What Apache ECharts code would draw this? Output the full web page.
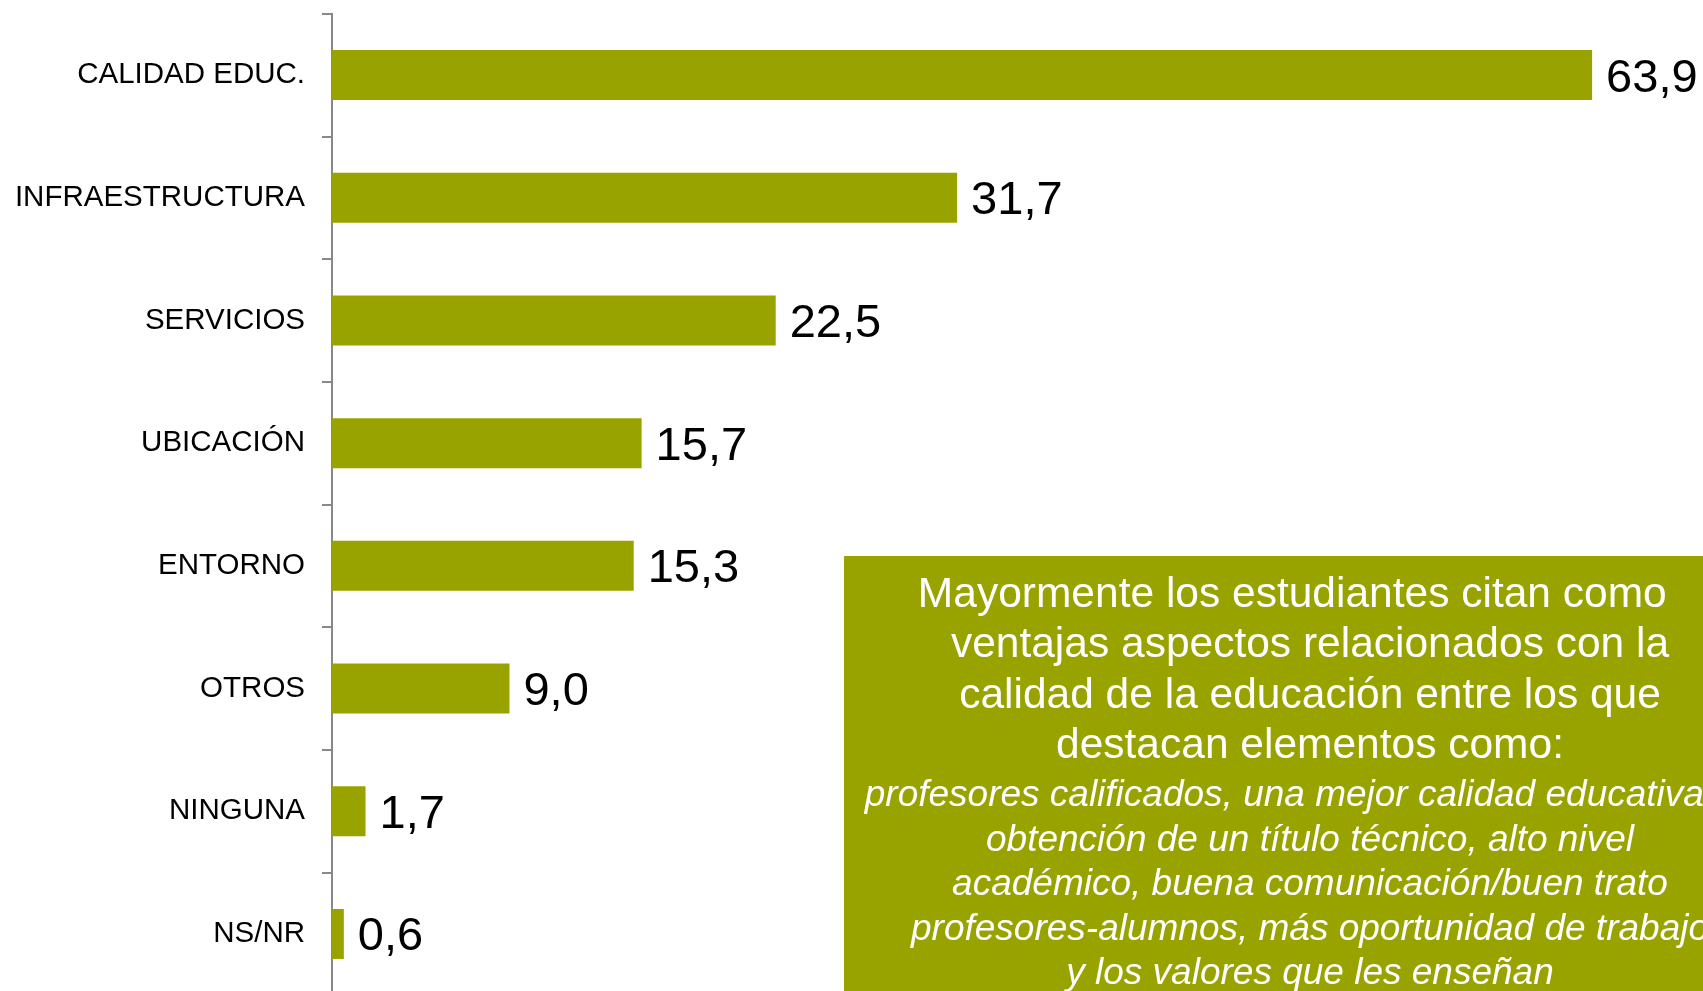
<!DOCTYPE html>
<html>
<head>
<meta charset="utf-8">
<script src="https://cdn.jsdelivr.net/npm/echarts@6/dist/echarts.min.js"></script>
<style>
html,body{margin:0;padding:0;background:#fff;}
#chart{width:1703px;height:991px;}
</style>
</head>
<body>
<div id="chart"></div>
<script>
const categories = ['CALIDAD EDUC.', 'INFRAESTRUCTURA', 'SERVICIOS', 'UBICACIÓN', 'ENTORNO', 'OTROS', 'NINGUNA', 'NS/NR'];
const values = [63.9, 31.7, 22.5, 15.7, 15.3, 9.0, 1.7, 0.6];
const noteMain = [
  'Mayormente los estudiantes citan como\u00a0\u00a0\u00a0',
  'ventajas aspectos relacionados con la',
  'calidad de la educación entre los que',
  'destacan elementos como:'
];
const noteItalic = [
  'profesores calificados, una mejor calidad educativa,\u00a0\u00a0\u00a0\u00a0',
  'obtención de un título técnico, alto nivel',
  'académico, buena comunicación/buen trato',
  'profesores-alumnos, más oportunidad de trabajo',
  'y los valores que les enseñan'
];

const FONT = '"Liberation Sans", Arial, Helvetica, sans-serif';
const GREEN = '#99A300';

const chart = echarts.init(document.getElementById('chart'), null, {renderer: 'canvas'});
const option = {
  backgroundColor: '#ffffff',
  animation: false,
  grid: {
    left: 332, top: 13.7, width: 1380.4, height: 981.6,
    containLabel: false, outerBoundsMode: 'none'
  },
  xAxis: {
    type: 'value', min: 0, max: 70,
    show: false
  },
  yAxis: {
    type: 'category',
    data: categories,
    inverse: true,
    axisLine: {show: true, lineStyle: {color: '#888888', width: 2}},
    axisTick: {show: true, length: 10, lineStyle: {color: '#888888', width: 2}},
    axisLabel: {
      margin: 27,
      fontSize: 29.5,
      color: '#000000',
      fontFamily: FONT,
      padding: [6.5, 0, 0, 0]
    },
    splitLine: {show: false}
  },
  series: [{
    type: 'bar',
    data: values,
    barWidth: 50,
    itemStyle: {color: GREEN},
    label: {
      show: true,
      position: 'right',
      distance: 14,
      offset: [0, 3.5],
      fontSize: 47,
      color: '#000000',
      fontFamily: FONT,
      formatter: p => p.value.toFixed(1).replace('.', ',')
    }
  }],
  graphic: [
    {
      type: 'rect',
      shape: {x: 844, y: 556, width: 940, height: 460},
      style: {fill: GREEN},
      z: 10
    },
    {
      type: 'text',
      x: 1310, y: 570,
      z: 11,
      style: {
        text: noteMain.join('\n'),
        fill: '#ffffff',
        font: '42.5px ' + FONT,
        lineHeight: 50.5,
        align: 'center',
        verticalAlign: 'top'
      }
    },
    {
      type: 'text',
      x: 1310, y: 773.5,
      z: 11,
      style: {
        text: noteItalic.join('\n'),
        fill: '#ffffff',
        font: 'italic 37px ' + FONT,
        lineHeight: 44.5,
        align: 'center',
        verticalAlign: 'top'
      }
    }
  ]
};
chart.setOption(option);
</script>
</body>
</html>
